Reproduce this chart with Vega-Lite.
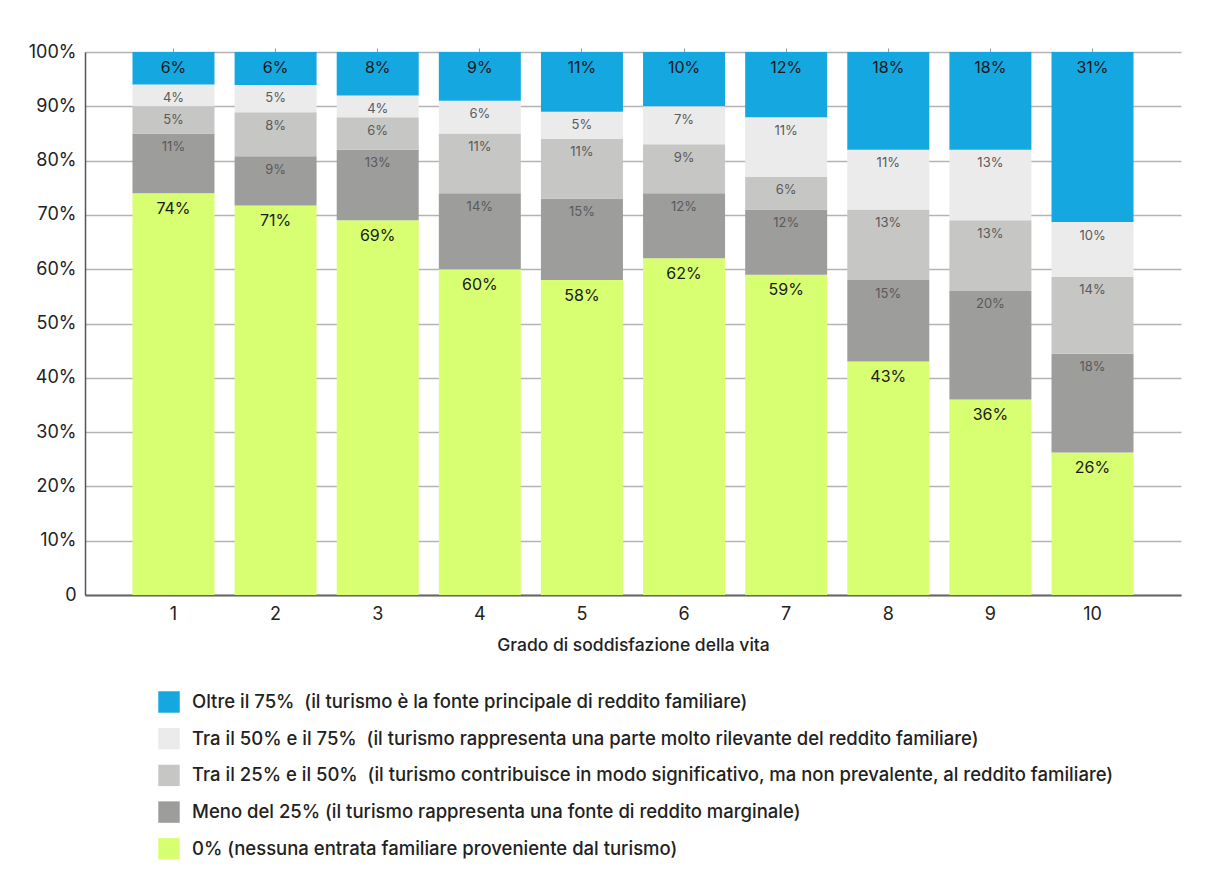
{
  "$schema": "https://vega.github.io/schema/vega-lite/v6.json",
  "width": 1096,
  "height": 543,
  "autosize": "none",
  "padding": {"left": 85, "top": 52, "right": 27, "bottom": 294},
  "background": "#ffffff",
  "config": {
    "font": "Inter",
    "view": {"stroke": null},
    "axis": {"labelFont": "Inter", "titleFont": "Inter"},
    "legend": {"labelFont": "Inter"}
  },
  "datasets": {
    "reddito": [
      {"grado": "1", "fascia": "0% (nessuna entrata familiare proveniente dal turismo)", "livello": 0, "quota": 0.74},
      {"grado": "1", "fascia": "Meno del 25% (il turismo rappresenta una fonte di reddito marginale)", "livello": 1, "quota": 0.11},
      {"grado": "1", "fascia": "Tra il 25% e il 50%\u00a0 (il turismo contribuisce in modo significativo, ma non prevalente, al reddito familiare)", "livello": 2, "quota": 0.05},
      {"grado": "1", "fascia": "Tra il 50% e il 75%\u00a0 (il turismo rappresenta una parte molto rilevante del reddito familiare)", "livello": 3, "quota": 0.04},
      {"grado": "1", "fascia": "Oltre il 75%\u00a0 (il turismo è la fonte principale di reddito familiare)", "livello": 4, "quota": 0.06},

      {"grado": "2", "fascia": "0% (nessuna entrata familiare proveniente dal turismo)", "livello": 0, "quota": 0.71},
      {"grado": "2", "fascia": "Meno del 25% (il turismo rappresenta una fonte di reddito marginale)", "livello": 1, "quota": 0.09},
      {"grado": "2", "fascia": "Tra il 25% e il 50%\u00a0 (il turismo contribuisce in modo significativo, ma non prevalente, al reddito familiare)", "livello": 2, "quota": 0.08},
      {"grado": "2", "fascia": "Tra il 50% e il 75%\u00a0 (il turismo rappresenta una parte molto rilevante del reddito familiare)", "livello": 3, "quota": 0.05},
      {"grado": "2", "fascia": "Oltre il 75%\u00a0 (il turismo è la fonte principale di reddito familiare)", "livello": 4, "quota": 0.06},

      {"grado": "3", "fascia": "0% (nessuna entrata familiare proveniente dal turismo)", "livello": 0, "quota": 0.69},
      {"grado": "3", "fascia": "Meno del 25% (il turismo rappresenta una fonte di reddito marginale)", "livello": 1, "quota": 0.13},
      {"grado": "3", "fascia": "Tra il 25% e il 50%\u00a0 (il turismo contribuisce in modo significativo, ma non prevalente, al reddito familiare)", "livello": 2, "quota": 0.06},
      {"grado": "3", "fascia": "Tra il 50% e il 75%\u00a0 (il turismo rappresenta una parte molto rilevante del reddito familiare)", "livello": 3, "quota": 0.04},
      {"grado": "3", "fascia": "Oltre il 75%\u00a0 (il turismo è la fonte principale di reddito familiare)", "livello": 4, "quota": 0.08},

      {"grado": "4", "fascia": "0% (nessuna entrata familiare proveniente dal turismo)", "livello": 0, "quota": 0.60},
      {"grado": "4", "fascia": "Meno del 25% (il turismo rappresenta una fonte di reddito marginale)", "livello": 1, "quota": 0.14},
      {"grado": "4", "fascia": "Tra il 25% e il 50%\u00a0 (il turismo contribuisce in modo significativo, ma non prevalente, al reddito familiare)", "livello": 2, "quota": 0.11},
      {"grado": "4", "fascia": "Tra il 50% e il 75%\u00a0 (il turismo rappresenta una parte molto rilevante del reddito familiare)", "livello": 3, "quota": 0.06},
      {"grado": "4", "fascia": "Oltre il 75%\u00a0 (il turismo è la fonte principale di reddito familiare)", "livello": 4, "quota": 0.09},

      {"grado": "5", "fascia": "0% (nessuna entrata familiare proveniente dal turismo)", "livello": 0, "quota": 0.58},
      {"grado": "5", "fascia": "Meno del 25% (il turismo rappresenta una fonte di reddito marginale)", "livello": 1, "quota": 0.15},
      {"grado": "5", "fascia": "Tra il 25% e il 50%\u00a0 (il turismo contribuisce in modo significativo, ma non prevalente, al reddito familiare)", "livello": 2, "quota": 0.11},
      {"grado": "5", "fascia": "Tra il 50% e il 75%\u00a0 (il turismo rappresenta una parte molto rilevante del reddito familiare)", "livello": 3, "quota": 0.05},
      {"grado": "5", "fascia": "Oltre il 75%\u00a0 (il turismo è la fonte principale di reddito familiare)", "livello": 4, "quota": 0.11},

      {"grado": "6", "fascia": "0% (nessuna entrata familiare proveniente dal turismo)", "livello": 0, "quota": 0.62},
      {"grado": "6", "fascia": "Meno del 25% (il turismo rappresenta una fonte di reddito marginale)", "livello": 1, "quota": 0.12},
      {"grado": "6", "fascia": "Tra il 25% e il 50%\u00a0 (il turismo contribuisce in modo significativo, ma non prevalente, al reddito familiare)", "livello": 2, "quota": 0.09},
      {"grado": "6", "fascia": "Tra il 50% e il 75%\u00a0 (il turismo rappresenta una parte molto rilevante del reddito familiare)", "livello": 3, "quota": 0.07},
      {"grado": "6", "fascia": "Oltre il 75%\u00a0 (il turismo è la fonte principale di reddito familiare)", "livello": 4, "quota": 0.10},

      {"grado": "7", "fascia": "0% (nessuna entrata familiare proveniente dal turismo)", "livello": 0, "quota": 0.59},
      {"grado": "7", "fascia": "Meno del 25% (il turismo rappresenta una fonte di reddito marginale)", "livello": 1, "quota": 0.12},
      {"grado": "7", "fascia": "Tra il 25% e il 50%\u00a0 (il turismo contribuisce in modo significativo, ma non prevalente, al reddito familiare)", "livello": 2, "quota": 0.06},
      {"grado": "7", "fascia": "Tra il 50% e il 75%\u00a0 (il turismo rappresenta una parte molto rilevante del reddito familiare)", "livello": 3, "quota": 0.11},
      {"grado": "7", "fascia": "Oltre il 75%\u00a0 (il turismo è la fonte principale di reddito familiare)", "livello": 4, "quota": 0.12},

      {"grado": "8", "fascia": "0% (nessuna entrata familiare proveniente dal turismo)", "livello": 0, "quota": 0.43},
      {"grado": "8", "fascia": "Meno del 25% (il turismo rappresenta una fonte di reddito marginale)", "livello": 1, "quota": 0.15},
      {"grado": "8", "fascia": "Tra il 25% e il 50%\u00a0 (il turismo contribuisce in modo significativo, ma non prevalente, al reddito familiare)", "livello": 2, "quota": 0.13},
      {"grado": "8", "fascia": "Tra il 50% e il 75%\u00a0 (il turismo rappresenta una parte molto rilevante del reddito familiare)", "livello": 3, "quota": 0.11},
      {"grado": "8", "fascia": "Oltre il 75%\u00a0 (il turismo è la fonte principale di reddito familiare)", "livello": 4, "quota": 0.18},

      {"grado": "9", "fascia": "0% (nessuna entrata familiare proveniente dal turismo)", "livello": 0, "quota": 0.36},
      {"grado": "9", "fascia": "Meno del 25% (il turismo rappresenta una fonte di reddito marginale)", "livello": 1, "quota": 0.20},
      {"grado": "9", "fascia": "Tra il 25% e il 50%\u00a0 (il turismo contribuisce in modo significativo, ma non prevalente, al reddito familiare)", "livello": 2, "quota": 0.13},
      {"grado": "9", "fascia": "Tra il 50% e il 75%\u00a0 (il turismo rappresenta una parte molto rilevante del reddito familiare)", "livello": 3, "quota": 0.13},
      {"grado": "9", "fascia": "Oltre il 75%\u00a0 (il turismo è la fonte principale di reddito familiare)", "livello": 4, "quota": 0.18},

      {"grado": "10", "fascia": "0% (nessuna entrata familiare proveniente dal turismo)", "livello": 0, "quota": 0.26},
      {"grado": "10", "fascia": "Meno del 25% (il turismo rappresenta una fonte di reddito marginale)", "livello": 1, "quota": 0.18},
      {"grado": "10", "fascia": "Tra il 25% e il 50%\u00a0 (il turismo contribuisce in modo significativo, ma non prevalente, al reddito familiare)", "livello": 2, "quota": 0.14},
      {"grado": "10", "fascia": "Tra il 50% e il 75%\u00a0 (il turismo rappresenta una parte molto rilevante del reddito familiare)", "livello": 3, "quota": 0.10},
      {"grado": "10", "fascia": "Oltre il 75%\u00a0 (il turismo è la fonte principale di reddito familiare)", "livello": 4, "quota": 0.31}
    ]
  },
  "data": {"name": "reddito"},
  "transform": [
    {
      "stack": "quota",
      "groupby": ["grado"],
      "sort": [{"field": "livello", "order": "ascending"}],
      "offset": "normalize",
      "as": ["base", "cima"]
    }
  ],
  "layer": [
    {
      "mark": {"type": "bar"},
      "encoding": {
        "x": {
          "field": "grado",
          "type": "nominal",
          "sort": ["1", "2", "3", "4", "5", "6", "7", "8", "9", "10"],
          "scale": {"paddingInner": 0.197, "paddingOuter": 0.465},
          "axis": {
            "orient": "bottom",
            "title": "Grado di soddisfazione della vita",
            "titleFontSize": 17.5,
            "titleFontWeight": 500,
            "titleColor": "#222222",
            "titlePadding": 13,
            "labelAngle": 0,
            "labelFontSize": 18,
            "labelColor": "#222222",
            "labelPadding": 10,
            "ticks": false,
            "domainColor": "#666666",
            "domainWidth": 2
          }
        },
        "y": {
          "field": "base",
          "type": "quantitative",
          "scale": {"domain": [0, 1]},
          "axis": {
            "title": null,
            "values": [0, 0.1, 0.2, 0.3, 0.4, 0.5, 0.6, 0.7, 0.8, 0.9, 1],
            "labelExpr": "datum.value == 0 ? '0' : format(datum.value, '.0%')",
            "labelFontSize": 18,
            "labelColor": "#222222",
            "labelPadding": 9,
            "ticks": false,
            "domainColor": "#555555",
            "domainWidth": 1.5,
            "grid": true,
            "gridColor": "#b4b4b4",
            "gridWidth": 1.6
          }
        },
        "y2": {"field": "cima"},
        "color": {
          "field": "fascia",
          "type": "nominal",
          "scale": {
            "domain": [
              "Oltre il 75%\u00a0 (il turismo è la fonte principale di reddito familiare)",
              "Tra il 50% e il 75%\u00a0 (il turismo rappresenta una parte molto rilevante del reddito familiare)",
              "Tra il 25% e il 50%\u00a0 (il turismo contribuisce in modo significativo, ma non prevalente, al reddito familiare)",
              "Meno del 25% (il turismo rappresenta una fonte di reddito marginale)",
              "0% (nessuna entrata familiare proveniente dal turismo)"
            ],
            "range": ["#14a7e0", "#ebebeb", "#c6c6c5", "#9d9d9c", "#d8fe72"]
          },
          "legend": {
            "title": null,
            "orient": "none",
            "legendX": 73,
            "legendY": 639,
            "padding": 0,
            "symbolType": "square",
            "symbolSize": 460,
            "symbolStrokeWidth": 0,
            "symbolOpacity": 1,
            "labelFontSize": 18.5,
            "labelFontWeight": 500,
            "labelColor": "#222222",
            "labelOffset": 12,
            "labelLimit": 1100,
            "rowPadding": 14.7
          }
        }
      }
    },
    {
      "transform": [{"filter": "datum.livello == 0 || datum.livello == 4"}],
      "mark": {"type": "text", "baseline": "middle", "dy": 15.5, "fontSize": 16, "fontWeight": 400, "color": "#1a1a1a"},
      "encoding": {
        "x": {"field": "grado", "type": "nominal", "sort": ["1", "2", "3", "4", "5", "6", "7", "8", "9", "10"], "axis": null},
        "y": {"field": "cima", "type": "quantitative"},
        "text": {"field": "quota", "type": "quantitative", "format": ".0%"}
      }
    },
    {
      "transform": [{"filter": "datum.livello > 0 && datum.livello < 4"}],
      "mark": {"type": "text", "baseline": "middle", "dy": 13.5, "fontSize": 13, "color": "#5a5a5a"},
      "encoding": {
        "x": {"field": "grado", "type": "nominal", "sort": ["1", "2", "3", "4", "5", "6", "7", "8", "9", "10"], "axis": null},
        "y": {"field": "cima", "type": "quantitative"},
        "text": {"field": "quota", "type": "quantitative", "format": ".0%"}
      }
    },
    {
      "mark": {"type": "tick", "opacity": 0},
      "encoding": {
        "x": {
          "field": "grado",
          "type": "nominal",
          "sort": ["1", "2", "3", "4", "5", "6", "7", "8", "9", "10"],
          "axis": {
            "orient": "top",
            "title": null,
            "labels": false,
            "domain": false,
            "ticks": true,
            "tickSize": 4,
            "tickColor": "#9a9a9a",
            "tickWidth": 1
          }
        },
        "y": {"field": "cima", "type": "quantitative"}
      }
    }
  ],
  "resolve": {"axis": {"x": "independent"}}
}
